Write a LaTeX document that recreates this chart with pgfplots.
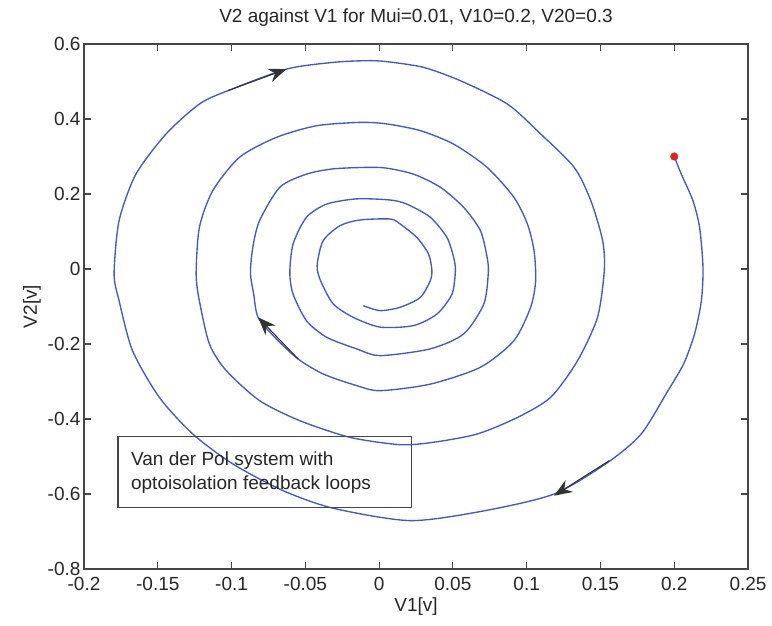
\documentclass[border=0pt]{standalone}
\usepackage{pgfplots}
\pgfplotsset{compat=1.18}
\usepackage{fontspec}
\setmainfont{Liberation Sans}
\usetikzlibrary{arrows.meta}

\definecolor{trace}{RGB}{66,88,204}
\definecolor{frame}{RGB}{70,70,70}
\definecolor{startpt}{RGB}{235,30,30}

% phase-plane trajectory of the oscillator (V1, V2), clockwise, decaying
\pgfplotstableread{
v1 v2
0.2000 0.3000
0.2048 0.2530
0.2127 0.1820
0.2172 0.1110
0.2195 0.0040
0.2184 -0.0850
0.2138 -0.1730
0.2065 -0.2520
0.1957 -0.3250
0.1776 -0.4400
0.1549 -0.5160
0.1186 -0.6000
0.0710 -0.6450
0.0211 -0.6710
-0.0311 -0.6380
-0.0651 -0.5910
-0.0991 -0.5200
-0.1263 -0.4400
-0.1490 -0.3420
-0.1671 -0.2180
-0.1762 -0.0850
-0.1796 -0.0130
-0.1762 0.1290
-0.1648 0.2530
-0.1444 0.3600
-0.1218 0.4400
-0.1025 0.4755
-0.0628 0.5330
-0.0311 0.5510
-0.0084 0.5555
0.0050 0.5530
0.0302 0.5376
0.0551 0.5020
0.0869 0.4400
0.1095 0.3600
0.1322 0.2710
0.1435 0.1820
0.1515 0.0755
0.1526 -0.0045
0.1480 -0.1290
0.1345 -0.2445
0.1163 -0.3420
0.0937 -0.3960
0.0665 -0.4400
0.0370 -0.4620
0.0143 -0.4685
-0.0197 -0.4490
-0.0537 -0.4045
-0.0810 -0.3510
-0.1036 -0.2710
-0.1150 -0.2000
-0.1218 -0.0850
-0.1240 -0.0130
-0.1218 0.1110
-0.1127 0.2090
-0.0946 0.2980
-0.0696 0.3510
-0.0424 0.3820
-0.0129 0.3910
0.0050 0.3870
0.0279 0.3690
0.0505 0.3330
0.0732 0.2710
0.0914 0.1910
0.1005 0.1200
0.1050 0.0490
0.1061 -0.0310
0.1027 -0.1020
0.0914 -0.1910
0.0687 -0.2620
0.0347 -0.3070
0.0007 -0.3245
-0.0152 -0.3110
-0.0379 -0.2800
-0.0549 -0.2400
-0.0700 -0.1850
-0.0820 -0.1290
-0.0850 -0.0670
-0.0872 -0.0100
-0.0855 0.0600
-0.0810 0.1290
-0.0673 0.2180
-0.0492 0.2530
-0.0311 0.2670
-0.0084 0.2710
0.0050 0.2690
0.0233 0.2530
0.0415 0.2180
0.0574 0.1640
0.0687 0.1020
0.0732 0.0310
0.0740 -0.0100
0.0710 -0.0930
0.0574 -0.1730
0.0347 -0.2130
0.0007 -0.2310
-0.0152 -0.2130
-0.0356 -0.1820
-0.0492 -0.1380
-0.0583 -0.0670
-0.0605 -0.0100
-0.0583 0.0670
-0.0492 0.1380
-0.0356 0.1730
-0.0152 0.1870
0.0075 0.1840
0.0188 0.1730
0.0347 0.1380
0.0460 0.0840
0.0505 0.0310
0.0517 -0.0040
0.0494 -0.0670
0.0392 -0.1200
0.0233 -0.1510
0.0007 -0.1550
-0.0175 -0.1290
-0.0311 -0.0930
-0.0397 -0.0310
-0.0420 0.0100
-0.0379 0.0755
-0.0265 0.1155
-0.0129 0.1307
0.0075 0.1333
0.0143 0.1200
0.0256 0.0840
0.0335 0.0400
0.0358 -0.0045
0.0347 -0.0310
0.0279 -0.0760
0.0143 -0.1020
0.0007 -0.1110
-0.0107 -0.0980
}\trajectory

\begin{document}
\begin{tikzpicture}
\begin{axis}[
  name=ax,
  scale only axis,
  width=664pt, height=525pt,
  xmin=-0.2, xmax=0.25, ymin=-0.8, ymax=0.6,
  xtick={-0.2,-0.15,-0.1,-0.05,0,0.05,0.1,0.15,0.2,0.25},
  xticklabels={-0.2,-0.15,-0.1,-0.05,0,0.05,0.1,0.15,0.2,0.25},
  ytick={-0.8,-0.6,-0.4,-0.2,0,0.2,0.4,0.6},
  yticklabels={-0.8,-0.6,-0.4,-0.2,0,0.2,0.4,0.6},
  tick align=inside,
  major tick length=7pt,
  axis line style={frame, line width=1.2pt},
  every tick/.style={frame, line width=1.2pt},
  tick label style={font=\fontsize{19}{22}\selectfont, text=black!85},
  xticklabel style={yshift=-5pt},
  title={V2 against V1 for Mui=0.01, V10=0.2, V20=0.3},
  title style={font=\fontsize{19}{22}\selectfont, text=black!85, yshift=8pt},
  xlabel={V1[v]},
  ylabel={V2[v]},
  label style={font=\fontsize{19}{22}\selectfont, text=black!85},
]
\addplot[trace, line width=1.35pt, smooth, tension=0.45] table[x=v1, y=v2] {\trajectory};
\addplot[only marks, mark=*, mark size=3.8pt, startpt] coordinates {(0.2,0.3)};

% direction arrows along the trajectory
\addplot[black!80, line width=1.1pt, -{Stealth[length=18pt, width=14pt, inset=6pt]}]
  coordinates {(-0.1025,0.4755) (-0.0628,0.5330)};
\addplot[black!80, line width=1.1pt, -{Stealth[length=18pt, width=14pt, inset=6pt]}]
  coordinates {(-0.0549,-0.2400) (-0.0820,-0.1290)};
\addplot[black!80, line width=1.1pt, -{Stealth[length=18pt, width=14pt, inset=6pt]}]
  coordinates {(0.1560,-0.5110) (0.1186,-0.6045)};

% annotation box
\draw[frame, line width=1.2pt] (axis cs:-0.1769,-0.447) rectangle (axis cs:0.0222,-0.636);
\node[anchor=west, align=left, inner sep=0pt, text=black!85,
      font=\fontsize{19}{24}\selectfont]
  at (axis cs:-0.1682,-0.5419) {Van der Pol system with\\optoisolation feedback loops};
\end{axis}
\pgfresetboundingbox
\path[use as bounding box] ([xshift=-84pt,yshift=-57pt]ax.south west)
  rectangle ([xshift=24pt,yshift=44pt]ax.north east);
\end{tikzpicture}
\end{document}
